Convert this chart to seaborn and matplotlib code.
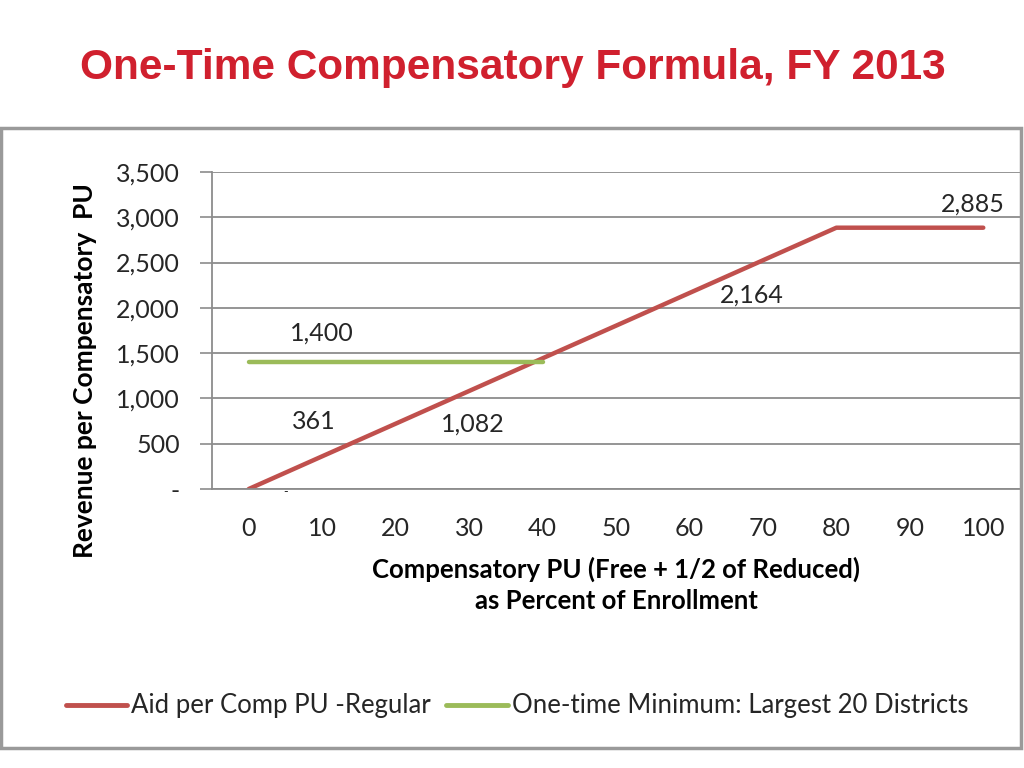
import matplotlib
matplotlib.use('Agg')
import matplotlib.pyplot as plt
import seaborn as sns
import numpy as np
import pandas as pd
from matplotlib.patches import Rectangle

sns.set_style("white")
plt.rcParams['font.family'] = ['Lato', 'DejaVu Sans']

# data
pct_enroll = [0, 10, 20, 30, 40, 50, 60, 70, 80, 90, 100]
aid_regular = [0, 361, 721, 1082, 1443, 1803, 2164, 2525, 2885, 2885, 2885]
one_time_min = [1400, 1400, 1400, 1400, 1400, np.nan, np.nan, np.nan, np.nan, np.nan, np.nan]
series_names = ['Aid per Comp PU -Regular', 'One-time Minimum: Largest 20 Districts']
y_ticks = [0, 500, 1000, 1500, 2000, 2500, 3000, 3500]
y_ticklabels = ['-', '500', '1,000', '1,500', '2,000', '2,500', '3,000', '3,500']

df = pd.DataFrame({
    'pct': pct_enroll * 2,
    'value': aid_regular + one_time_min,
    'series': [series_names[0]] * 11 + [series_names[1]] * 11,
})

red = '#c0504d'
green = '#9bbb59'
grid_c = '#8c8c8c'
txt_c = '#262626'

fig = plt.figure(figsize=(10.24, 7.68), dpi=100, facecolor='white')
ax = fig.add_axes([212 / 1024, 1 - 489 / 768, 808 / 1024, 317 / 768])

sns.lineplot(data=df, x='pct', y='value', hue='series',
             palette={series_names[0]: red, series_names[1]: green},
             linewidth=3.2, ax=ax, legend=True)
for ln in ax.get_lines():
    ln.set_solid_capstyle('round')

ax.set_xlim(-5, 105)
ax.set_ylim(0, 3500)
ax.set_yticks(y_ticks)
ax.set_yticklabels(y_ticklabels)
ax.set_xticks(pct_enroll)
ax.set_xticklabels([str(v) for v in pct_enroll])
ax.set_xticks(np.arange(-5, 106, 10), minor=True)
ax.tick_params(axis='x', which='major', length=0, pad=20, labelsize=18, labelcolor=txt_c)
ax.tick_params(axis='x', which='minor', length=9, width=1.2, color=grid_c, direction='out')
ax.tick_params(axis='y', which='major', length=9, width=1.2, color=grid_c, pad=14,
               labelsize=18, labelcolor=txt_c, left=True)
ax.yaxis.grid(True, color=grid_c, linewidth=1.3)
ax.set_axisbelow(True)
for s in ['top', 'right']:
    ax.spines[s].set_visible(False)
for s in ['left', 'bottom']:
    ax.spines[s].set_color(grid_c)
    ax.spines[s].set_linewidth(1.3)

ax.set_xlabel('Compensatory PU (Free + 1/2 of Reduced)\nas Percent of Enrollment',
              fontsize=18.5, fontweight='bold', color='black', labelpad=12, linespacing=1.35)
ax.set_ylabel('Revenue per Compensatory  PU', fontsize=19, fontweight='bold', color='black')
ax.yaxis.set_label_coords(-0.142, 0.375)

# data labels
label_style = dict(textcoords='offset pixels', ha='center', va='center', fontsize=18, color=txt_c)
ax.annotate('1,400', (pct_enroll[1], one_time_min[1]), xytext=(0, 29), **label_style)
ax.annotate('361', (pct_enroll[1], aid_regular[1]), xytext=(-8, 35), **label_style)
ax.annotate('1,082', (pct_enroll[3], aid_regular[3]), xytext=(4, -33), **label_style)
ax.annotate('2,164', (pct_enroll[6], aid_regular[6]), xytext=(62, -2), **label_style)
ax.annotate('2,885', (pct_enroll[10], aid_regular[10]), xytext=(-10, 24), **label_style)
ax.annotate('-', (pct_enroll[0], aid_regular[0]), xytext=(37, -3), textcoords='offset pixels',
            ha='center', va='center', fontsize=9, color=txt_c)

# legend at bottom
handles, labels = ax.get_legend_handles_labels()
ax.get_legend().remove()
leg = fig.legend(handles, labels, loc='center', bbox_to_anchor=(0.505, 1 - 706 / 768),
                 ncol=2, frameon=False, fontsize=18.5, handlelength=2.4,
                 handletextpad=0.15, columnspacing=0.6)
for h in leg.get_lines():
    h.set_linewidth(3.5)
for t in leg.get_texts():
    t.set_color(txt_c)

# chart frame
fig.patches.append(Rectangle((1 / 1024, 1 - 748 / 768), 1020 / 1024, 620 / 768,
                             transform=fig.transFigure, fill=False,
                             edgecolor='#9a9a9a', linewidth=2.5, zorder=0))

fig.text(0.501, 1 - 68 / 768, 'One-Time Compensatory Formula, FY 2013',
         ha='center', va='center', fontsize=30.5, fontweight='bold',
         color='#d0202e', family=['Liberation Sans', 'DejaVu Sans'])

fig.savefig('out.png', dpi=100, facecolor='white')
